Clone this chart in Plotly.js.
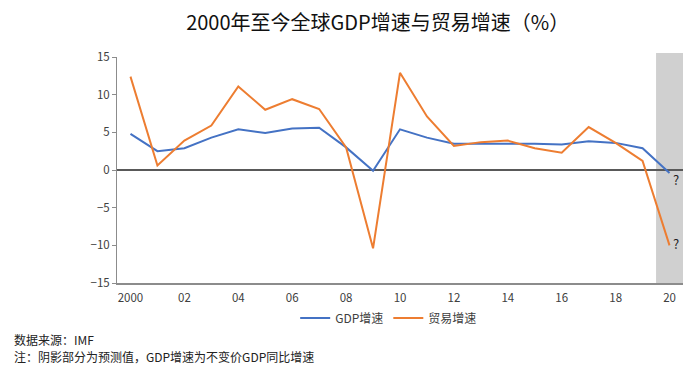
<!DOCTYPE html>
<html><head><meta charset="utf-8">
<script src="https://cdn.plot.ly/plotly-3.0.1.min.js"></script>
<style>body{margin:0;background:#fff}#c{width:693px;height:371px}</style>
</head><body><div id="c"></div>
<script>
const years = [2000,2001,2002,2003,2004,2005,2006,2007,2008,2009,2010,2011,2012,2013,2014,2015,2016,2017,2018,2019,2020];
const gdpGrowth = [4.8,2.5,2.9,4.3,5.4,4.9,5.5,5.6,3.0,-0.1,5.4,4.3,3.5,3.5,3.6,3.5,3.4,3.8,3.6,2.9,-0.4];
const tradeGrowth = [12.4,0.6,3.9,5.9,11.1,8.0,9.4,8.1,3.0,-10.4,12.9,7.1,3.2,3.7,3.9,2.9,2.3,5.7,3.6,1.2,-10.0];
const tickVals = [2000,2002,2004,2006,2008,2010,2012,2014,2016,2018,2020];
const tickText = ['2000','02','04','06','08','10','12','14','16','18','20'];
const forecastYear = 2020;
const font = '"Noto Sans CJK SC", "Noto Sans", sans-serif';

const traces = [
  {x: years, y: gdpGrowth, name: 'GDP增速', type: 'scatter', mode: 'lines',
   line: {color: '#4472C4', width: 2}},
  {x: years, y: tradeGrowth, name: '贸易增速', type: 'scatter', mode: 'lines',
   line: {color: '#ED7D31', width: 2}}
];
const last = years.length - 1;
const layout = {
  width: 693, height: 371,
  margin: {l: 117, r: 10, t: 57, b: 88},
  paper_bgcolor: '#fff', plot_bgcolor: '#fff',
  font: {family: font, color: '#404040', size: 11},
  title: {text: '2000年至今全球GDP增速与贸易增速（%）', x: 0.545, xanchor: 'center', y: 0.938, yanchor: 'middle',
          font: {family: font, size: 20, color: '#111'}},
  xaxis: {range: [1999.5, 2020.5], tickvals: tickVals, ticktext: tickText, showgrid: false,
          showline: true, linecolor: '#8c8c8c', linewidth: 1.5, ticks: '', zeroline: false,
          ticklabelstandoff: 4, tickfont: {size: 11.5, color: '#404040'}},
  yaxis: {range: [-15, 15], dtick: 5, showgrid: false, showline: true, linecolor: '#8c8c8c', linewidth: 1,
          ticks: 'outside', ticklen: 4, tickcolor: '#8c8c8c', zeroline: true, zerolinecolor: '#595959',
          zerolinewidth: 2, tickfont: {size: 11.5, color: '#404040'}},
  shapes: [{type: 'rect', xref: 'x', yref: 'paper', x0: forecastYear - 0.5, x1: forecastYear + 0.5,
            y0: 0, y1: 1.018, fillcolor: '#d0d0d0', line: {width: 0}, layer: 'below'}],
  legend: {orientation: 'h', x: 0.48, xanchor: 'center', y: -0.155, yanchor: 'middle',
           font: {size: 12, color: '#404040'}, itemwidth: 30},
  showlegend: true,
  annotations: [
    {x: years[last], y: gdpGrowth[last], xref: 'x', yref: 'y', text: '?', showarrow: false,
     xshift: 6, yshift: -6, font: {size: 13, color: '#222'}},
    {x: years[last], y: tradeGrowth[last], xref: 'x', yref: 'y', text: '?', showarrow: false,
     xshift: 6, yshift: 2, font: {size: 13, color: '#222'}},
    {xref: 'paper', yref: 'paper', x: -0.186, xanchor: 'left', y: -0.25, yanchor: 'middle',
     text: '数据来源：IMF', showarrow: false, font: {size: 12, color: '#222'}},
    {xref: 'paper', yref: 'paper', x: -0.186, xanchor: 'left', y: -0.327, yanchor: 'middle',
     text: '注：阴影部分为预测值，GDP增速为不变价GDP同比增速', showarrow: false, font: {size: 12, color: '#222'}}
  ]
};
Plotly.newPlot('c', traces, layout, {displayModeBar: false, staticPlot: true});
</script></body></html>
